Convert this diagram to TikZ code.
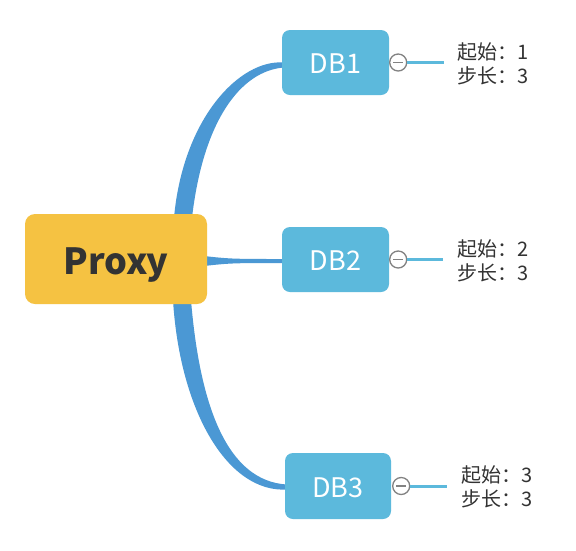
\documentclass[tikz,border=0pt]{standalone}
\usepackage{fontspec}
\setmainfont{Noto Sans CJK SC}
\usetikzlibrary{calc,backgrounds}
\definecolor{proxyfill}{RGB}{245,194,66}
\definecolor{dbfill}{RGB}{92,185,220}
\definecolor{branch}{RGB}{75,152,212}
\definecolor{txt}{RGB}{51,51,51}
\definecolor{btn}{RGB}{130,130,130}
\begin{document}
\begin{tikzpicture}[x=1pt,y=-1pt,
 rootbox/.style={fill=proxyfill, rounded corners=10pt, minimum width=182pt, minimum height=90pt, inner sep=0pt, text=txt, font=\fontsize{36}{40}\selectfont\bfseries, text height=30pt, text depth=0pt},
 dbbox/.style={fill=dbfill, rounded corners=8pt, minimum width=107pt, minimum height=65pt, inner sep=0pt, text=white, font=\fontsize{27}{32}\selectfont, text height=22pt, text depth=0pt},
 collapse/.style={circle, draw=btn, fill=white, line width=1.3pt, minimum size=17pt, inner sep=0pt},
 minus/.style={draw=btn, line width=1.3pt},
 note/.style={anchor=west, align=left, inner sep=0pt, text=txt, font=\fontsize{20}{24}\selectfont},
 leaf/.style={draw=dbfill, line width=3pt},
 br/.style={fill=branch}]
\useasboundingbox (0,0) rectangle (576,550);

\node[rootbox] (proxy) at (116,259) {Proxy};
\node[dbbox] (db1) at (335.5,62.5) {DB1};
\node[dbbox] (db2) at (335.5,259.5) {DB2};
\node[dbbox, minimum width=106pt, minimum height=66pt] (db3) at (338,486) {DB3};

\node[collapse] (c1) at ($(db1.east)+(9,0)$) {};
\node[collapse] (c2) at ($(db2.east)+(9,0)$) {};
\node[collapse] (c3) at ($(db3.east)+(10,0)$) {};
\foreach \c in {c1,c2,c3}{
  \draw[minus] ($(\c.center)+(-5,0)$) -- ($(\c.center)+(5,0)$);
}

\node[note] (t1) at (457,63.5) {起始：1\\步长：3};
\node[note] (t2) at (457,260.5) {起始：2\\步长：3};
\node[note] (t3) at (461,486.5) {起始：3\\步长：3};

\draw[leaf, shorten >=13pt] (c1.east) -- (c1.east -| t1.west);
\draw[leaf, shorten >=14pt] (c2.east) -- (c2.east -| t2.west);
\draw[leaf, shorten >=14pt] (c3.east) -- (c3.east -| t3.west);

\begin{scope}[on background layer]
  \fill[white] (0,0) rectangle (576,550);
  % upper branch
  \fill[br] ($(proxy.north)+(58,4)$) .. controls (183,118) and (240,59) .. ($(db1.west)+(2,0)$)
     -- ($(db1.west)+(2,5)$) .. controls (240,71) and (203,122) .. ($(proxy.north)+(76,4)$) -- cycle;
  % middle branch
  \fill[br] ($(proxy.east)+(-12,-4)$) .. controls (230,259) .. ($(db2.west)+(2,-0.5)$)
     -- ($(db2.west)+(2,3.5)$) .. controls (230,263) .. ($(proxy.east)+(-12,8)$) -- cycle;
  % lower branch
  \fill[br] ($(proxy.south)+(57,-4)$) .. controls (180,412) and (228,493) .. ($(db3.west)+(2,3.5)$)
     -- ($(db3.west)+(2,-1.5)$) .. controls (228,481) and (200,408) .. ($(proxy.south)+(75,-4)$) -- cycle;
\end{scope}
\end{tikzpicture}
\end{document}
